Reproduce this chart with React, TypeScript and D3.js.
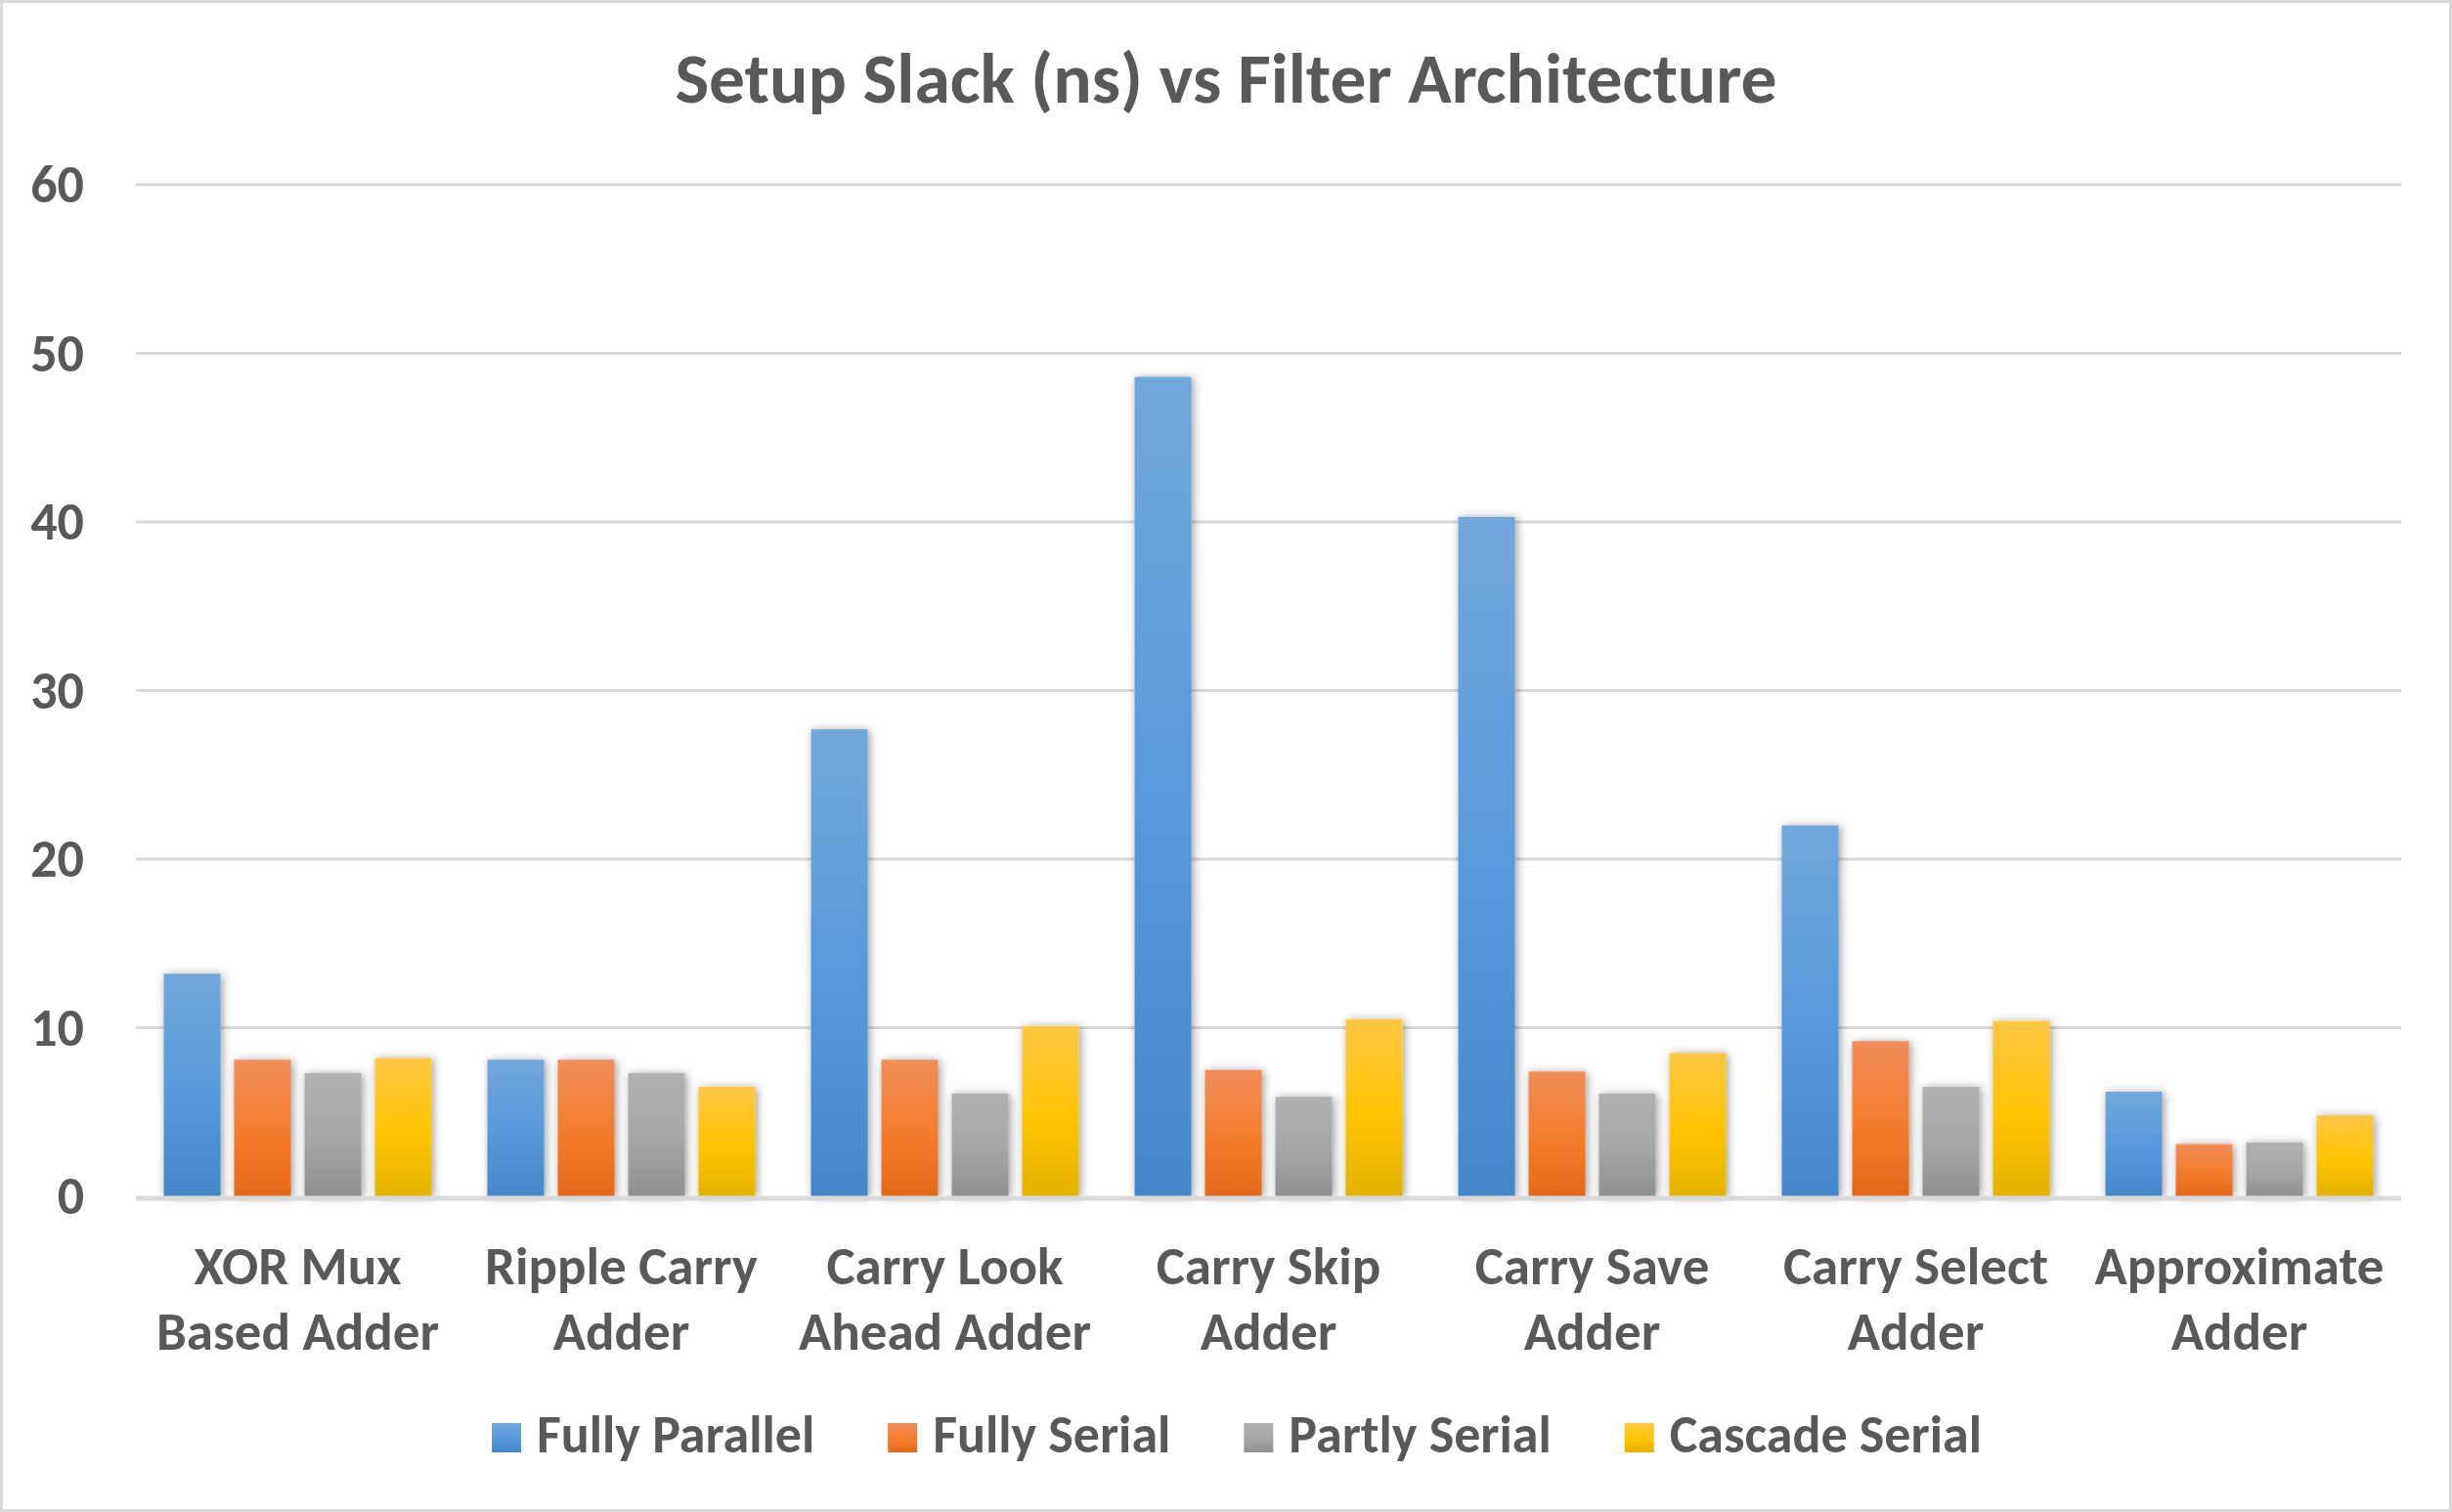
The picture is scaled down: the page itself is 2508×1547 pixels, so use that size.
import React, { useEffect, useRef } from "react";
import * as d3 from "d3";

const categories = [
  ["XOR Mux", "Based Adder"],
  ["Ripple Carry", "Adder"],
  ["Carry Look", "Ahead Adder"],
  ["Carry Skip", "Adder"],
  ["Carry Save", "Adder"],
  ["Carry Select", "Adder"],
  ["Approximate", "Adder"],
];

const seriesNames = ["Fully Parallel", "Fully Serial", "Partly Serial", "Cascade Serial"];

const fullyParallel = [13.2, 8.1, 27.7, 48.6, 40.3, 22.0, 6.2];
const fullySerial = [8.1, 8.1, 8.1, 7.5, 7.4, 9.2, 3.1];
const partlySerial = [7.3, 7.3, 6.1, 5.9, 6.1, 6.5, 3.2];
const cascadeSerial = [8.2, 6.5, 10.1, 10.5, 8.5, 10.4, 4.8];

const yTicks = [0, 10, 20, 30, 40, 50, 60];

// light top, base middle, darker bottom
const gradients = [
  ["#72a7dc", "#5699db", "#4487c8"],
  ["#f08d5a", "#f47c2c", "#e2691a"],
  ["#b1b1b1", "#a6a6a6", "#8f8f8f"],
  ["#ffc744", "#ffc400", "#e3b300"],
];

const FONT = "Carlito, Calibri, 'Liberation Sans Narrow', 'Open Sans', sans-serif";
const TEXT = "#595959";

const App = () => {
  const ref = useRef<SVGSVGElement>(null);

  useEffect(() => {
    const width = 2508;
    const height = 1547;
    const margin = { left: 139, right: 52, top: 189, bottom: 323 };

    const svg = d3.select(ref.current)
      .attr("width", width)
      .attr("height", height);

    svg.selectAll("*").remove();

    const values = [fullyParallel, fullySerial, partlySerial, cascadeSerial];
    const keys = categories.map(c => c.join(" "));

    const defs = svg.append("defs");
    gradients.forEach((g, i) => {
      const lg = defs.append("linearGradient")
        .attr("id", "grad" + i)
        .attr("x1", 0).attr("y1", 0).attr("x2", 0).attr("y2", 1);
      lg.append("stop").attr("offset", "0%").attr("stop-color", g[0]);
      lg.append("stop").attr("offset", "55%").attr("stop-color", g[1]);
      lg.append("stop").attr("offset", "100%").attr("stop-color", g[2]);
    });
    defs.append("filter")
      .attr("id", "shadow")
      .attr("x", "-50%").attr("y", "-20%").attr("width", "200%").attr("height", "140%")
      .append("feDropShadow")
      .attr("dx", 2).attr("dy", 1)
      .attr("stdDeviation", 5)
      .attr("flood-color", "#000")
      .attr("flood-opacity", 0.4);

    svg.append("rect")
      .attr("x", 1.5).attr("y", 1.5)
      .attr("width", width - 3).attr("height", height - 3)
      .attr("fill", "#fff")
      .attr("stroke", "#d9d9d9")
      .attr("stroke-width", 3);

    const x0 = d3.scaleBand()
      .domain(keys)
      .range([margin.left, width - margin.right])
      .paddingInner(0)
      .paddingOuter(0);

    const x1 = d3.scaleBand()
      .domain(seriesNames)
      .range([0, x0.bandwidth()])
      .paddingInner(0.194)
      .paddingOuter(0.396);

    const y = d3.scaleLinear()
      .domain([0, 60])
      .range([height - margin.bottom, margin.top]);

    // gridlines
    svg.append("g")
      .selectAll("line")
      .data(yTicks.filter(t => t > 0))
      .enter()
      .append("line")
      .attr("x1", margin.left)
      .attr("x2", width - margin.right)
      .attr("y1", d => y(d))
      .attr("y2", d => y(d))
      .attr("stroke", "#d9d9d9")
      .attr("stroke-width", 3);

    // tick labels
    svg.append("g")
      .selectAll("text")
      .data(yTicks)
      .enter()
      .append("text")
      .attr("x", 86)
      .attr("y", d => y(d))
      .attr("dy", "0.34em")
      .attr("text-anchor", "end")
      .attr("font-family", FONT)
      .attr("font-weight", "bold")
      .attr("font-size", 54)
      .attr("fill", TEXT)
      .text(d => d);

    // bars
    const groups = svg.append("g")
      .selectAll("g")
      .data(keys)
      .enter()
      .append("g")
      .attr("transform", d => `translate(${x0(d)},0)`);

    groups.selectAll("rect")
      .data((_, i) => seriesNames.map((s, j) => ({ s, j, v: values[j][i] })))
      .enter()
      .append("rect")
      .attr("x", d => x1(d.s)!)
      .attr("width", x1.bandwidth())
      .attr("y", d => y(d.v))
      .attr("height", d => y(0) - y(d.v))
      .attr("fill", d => `url(#grad${d.j})`)
      .attr("filter", "url(#shadow)");

    // baseline axis
    svg.append("line")
      .attr("x1", margin.left)
      .attr("x2", width - margin.right)
      .attr("y1", y(0) + 2)
      .attr("y2", y(0) + 2)
      .attr("stroke", "#d9d9d9")
      .attr("stroke-width", 5);

    // category labels
    const cx = (i: number) => x0(keys[i])! + x0.bandwidth() / 2;
    const cat = svg.append("g")
      .selectAll("text")
      .data(categories)
      .enter()
      .append("text")
      .attr("x", (_, i) => cx(i))
      .attr("y", 1314)
      .attr("text-anchor", "middle")
      .attr("font-family", FONT)
      .attr("font-weight", "bold")
      .attr("font-size", 55)
      .attr("fill", TEXT);
    cat.append("tspan").attr("x", (_, i) => cx(i)).text(d => d[0]);
    cat.append("tspan").attr("x", (_, i) => cx(i)).attr("dy", 67).text(d => d[1]);

    // title
    svg.append("text")
      .attr("x", width / 2)
      .attr("y", 105)
      .attr("text-anchor", "middle")
      .attr("font-family", FONT)
      .attr("font-weight", "bold")
      .attr("font-size", 73.5)
      .attr("fill", TEXT)
      .text("Setup Slack (ns) vs Filter Architecture");

    // legend
    const legend = svg.append("g");
    const items = legend.selectAll("g")
      .data(seriesNames)
      .enter()
      .append("g");
    items.append("rect")
      .attr("y", 1456)
      .attr("width", 30)
      .attr("height", 30)
      .attr("fill", (_, i) => `url(#grad${i})`);
    items.append("text")
      .attr("x", 46)
      .attr("y", 1486)
      .attr("font-family", FONT)
      .attr("font-weight", "bold")
      .attr("font-size", 54)
      .attr("fill", TEXT)
      .text(d => d);

    let pos = 0;
    const offsets: number[] = [];
    items.each(function () {
      const t = d3.select(this).select("text").node() as SVGTextElement;
      offsets.push(pos);
      pos += 46 + t.getComputedTextLength() + 75;
    });
    const total = pos - 75;
    const start = 1265 - total / 2;
    items.attr("transform", (_, i) => `translate(${start + offsets[i]},0)`);
  }, []);

  return <svg ref={ref} style={{ position: "absolute", left: 0, top: 0 }}></svg>;
};

export default App;
